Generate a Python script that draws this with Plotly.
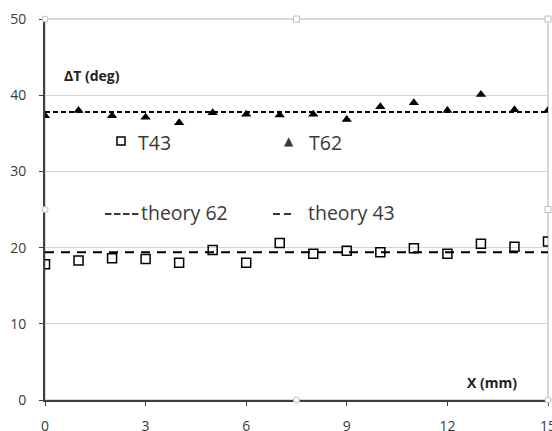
import plotly.graph_objects as go

x_pos = list(range(16))
t62 = [37.3, 38.0, 37.3, 37.1, 36.4, 37.7, 37.5, 37.4, 37.5, 36.8, 38.5, 39.0, 38.0, 40.1, 38.1, 38.0]
t43 = [17.8, 18.3, 18.6, 18.5, 18.0, 19.7, 18.0, 20.6, 19.2, 19.6, 19.4, 19.9, 19.2, 20.5, 20.1, 20.8]
theory_x = [0, 15]
theory62 = [37.8, 37.8]
theory43 = [19.4, 19.4]
x_ticks = [0, 3, 6, 9, 12, 15]
y_ticks = [0, 10, 20, 30, 40, 50]

W, H = 552, 431
L, R, T, B = 45, 4, 19, 31
PW, PH = W - L - R, H - T - B


def px(xp):
    return (xp - L) / PW


def py(yp):
    return (H - B - yp) / PH


font = "Open Sans, DejaVu Sans, sans-serif"
txt = "#3a3a3a"
fig = go.Figure()
fig.add_trace(go.Scatter(x=x_pos, y=t43, mode="markers", name="T43",
                         marker=dict(symbol="square-open", size=9, color="black", line=dict(width=1.5))))
fig.add_trace(go.Scatter(x=x_pos, y=t62, mode="markers", name="T62",
                         marker=dict(symbol="triangle-up", size=9, color="black")))
fig.add_trace(go.Scatter(x=theory_x, y=theory62, mode="lines", name="theory 62",
                         line=dict(color="black", width=2, dash="5px,3px")))
fig.add_trace(go.Scatter(x=theory_x, y=theory43, mode="lines", name="theory 43",
                         line=dict(color="black", width=2, dash="9px,7px")))

# frame and selection handles (decoration), in paper coords
handles = [(0, 1, "circle"), (0.5, 1, "rect"), (1, 1, "rect"), (0, 0.5, "circle"),
           (1, 0.5, "rect"), (0.5, 0, "circle"), (1, 0, "circle")]
shapes = [dict(type="rect", xref="paper", yref="paper", x0=0, x1=1, y0=0, y1=1,
               line=dict(color="#cccccc", width=1.5), layer="below")]
for hx, hy, kind in handles:
    shapes.append(dict(type=kind, xref="paper", yref="paper", xsizemode="pixel", ysizemode="pixel",
                       xanchor=hx, yanchor=hy, x0=-3, x1=3, y0=-3, y1=3,
                       line=dict(color="#bbbbbb", width=1), fillcolor="white", layer="above"))
# legend samples drawn as in the original text boxes
shapes.append(dict(type="line", xref="paper", yref="paper", x0=px(105), x1=px(140),
                   y0=py(214), y1=py(214), line=dict(color=txt, width=2, dash="6.5px,2.5px")))
shapes.append(dict(type="line", xref="paper", yref="paper", x0=px(273), x1=px(291),
                   y0=py(214), y1=py(214), line=dict(color=txt, width=2, dash="7px,4px")))
shapes.append(dict(type="rect", xref="paper", yref="paper", xsizemode="pixel", ysizemode="pixel",
                   xanchor=px(121), yanchor=py(141), x0=-4, x1=4, y0=-4, y1=4,
                   line=dict(color="black", width=1.5), fillcolor="rgba(0,0,0,0)"))


def ann(text, x, y, size=19.5, anchor="left", bold=False, family=font):
    return dict(text=f"<b>{text}</b>" if bold else text, x=px(x), y=py(y), xref="paper", yref="paper",
                xanchor=anchor, yanchor="middle", showarrow=False,
                font=dict(size=size, color=txt if not bold else "#222222", family=family))


annotations = [
    ann("T43", 136, 142),
    ann("▲", 289, 141, size=12, anchor="center", family="DejaVu Sans"),
    ann("T62", 307, 142),
    ann("theory 62", 139, 212),
    ann("theory 43", 306, 212),
    ann("ΔT (deg)", 62, 75, size=14, bold=True),
    ann("X (mm)", 519, 382, size=14, anchor="right", bold=True),
]

fig.update_layout(
    width=W, height=H,
    margin=dict(l=L, r=R, t=T, b=B, autoexpand=False),
    paper_bgcolor="white", plot_bgcolor="white",
    font=dict(family=font, color=txt),
    showlegend=False,
    xaxis=dict(range=[0, 15], tickvals=x_ticks, showgrid=False, zeroline=False,
               showline=True, linecolor="#404040", linewidth=2, automargin=False,
               ticks="outside", ticklen=4, tickcolor="#404040", ticklabelstandoff=8,
               ticklabeloverflow="allow", tickfont=dict(size=14, color=txt)),
    yaxis=dict(range=[0, 50], tickvals=y_ticks, showgrid=True, gridcolor="#d4d4d4",
               gridwidth=1, zeroline=False, showline=True, linecolor="#404040", linewidth=2,
               automargin=False, ticks="outside", ticklen=4, tickcolor="#404040",
               ticklabelstandoff=10, tickfont=dict(size=14, color=txt)),
    shapes=shapes,
    annotations=annotations,
)
fig.write_html("out.html", config={"displayModeBar": False},
               post_script="document.body.style.margin='0';document.body.style.overflow='hidden';")
